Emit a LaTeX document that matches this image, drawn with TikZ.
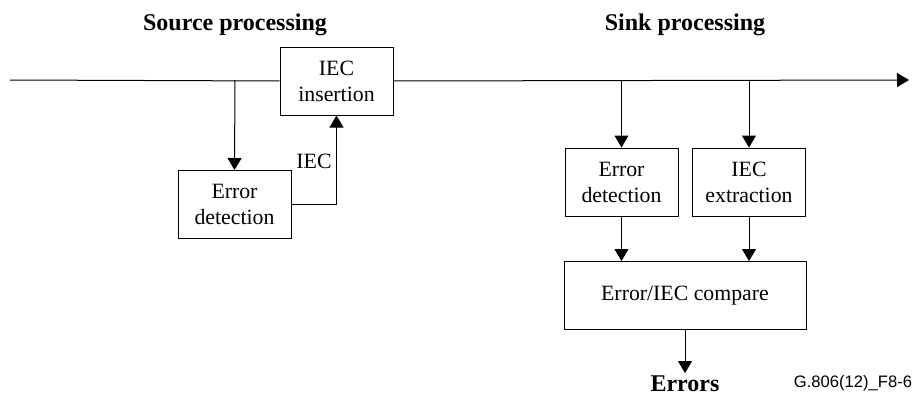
\documentclass[tikz,border=0pt]{standalone}
\usepackage{fontspec}
\setmainfont{Liberation Serif}
\newfontfamily\figfont{Liberation Sans}
\usetikzlibrary{arrows.meta}

\tikzset{
  blk/.style={draw, align=center, inner sep=0pt, minimum width=56.5pt, minimum height=34pt,
    font=\fontsize{10.9}{13}\selectfont},
  arr/.style={-{Triangle[length=6pt,width=7pt]}},
  head/.style={font=\fontsize{12}{14}\selectfont\bfseries}
}

\begin{document}
\begin{tikzpicture}[x=0.5pt,y=0.5pt,line width=0.5pt]
  \useasboundingbox (0,0) rectangle (912,-396);
  % headings
  \node[head] (srchead) at (235,-25) {Source processing};
  \node[head] (snkhead) at (685,-25) {Sink processing};
  % main signal line
  \coordinate (in) at (10,-80);
  \coordinate (out) at (909,-80);
  \node[blk] (ins) at (336.5,-81) {IEC\\insertion};
  \draw (in) -- (ins.west);
  \draw[arr] (ins.east) -- (out);
  % source side
  \coordinate (tap1) at (235,-80);
  \node[blk] (srcerr) at (234.5,-204.5) {Error\\detection};
  \draw[arr] (tap1) -- (srcerr.north);
  \draw[arr] (srcerr.east) -| (ins.south);
  \node[font=\fontsize{10.9}{13}\selectfont] (iec) at (314,-161) {IEC};
  % sink side
  \coordinate (tap2) at (621.5,-80);
  \coordinate (tap3) at (749,-80);
  \node[blk] (snkerr) at (621.5,-182) {Error\\detection};
  \node[blk] (ext) at (749,-182) {IEC\\extraction};
  \draw[arr] (tap2) -- (snkerr.north);
  \draw[arr] (tap3) -- (ext.north);
  \node[blk, minimum width=121pt] (cmp) at (685,-295.5) {Error/IEC compare};
  \draw[arr] (snkerr.south) -- (snkerr.south |- cmp.north);
  \draw[arr] (ext.south) -- (ext.south |- cmp.north);
  \node[head, anchor=north, inner sep=1pt] (errs) at (685,-373) {Errors};
  \draw[arr] (cmp.south) -- (errs.north);
  \node[font=\figfont\fontsize{8.3}{10}\selectfont] (figid) at (853,-383) {G.806(12)\_F8-6};
\end{tikzpicture}
\end{document}
